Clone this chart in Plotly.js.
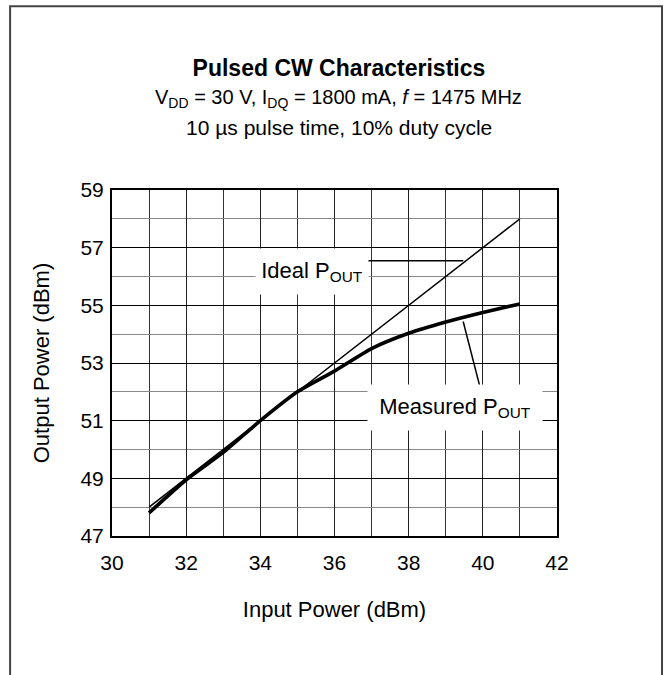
<!DOCTYPE html>
<html>
<head>
<meta charset="utf-8">
<script src="https://cdn.plot.ly/plotly-3.0.1.min.js"></script>
<style>
  html, body { margin: 0; padding: 0; background: #fff; }
  #chart { width: 664px; height: 675px; }
</style>
</head>
<body>
<div id="chart"></div>
<script>
// Data
const inputPower = [31, 32, 33, 34, 35, 36, 37, 38, 39, 40, 41];
const measuredPout = [47.8, 48.95, 49.9, 51.0, 52.0, 52.72, 53.5, 54.03, 54.42, 54.75, 55.05];
const idealInput = [31, 41];
const idealPout = [48, 58];
const xTickVals = [30, 32, 34, 36, 38, 40, 42];
const yTickVals = [47, 49, 51, 53, 55, 57, 59];

const FONT = 'Arial, "Liberation Sans", sans-serif';

const traces = [
  {
    x: idealInput, y: idealPout, type: 'scatter', mode: 'lines',
    name: 'Ideal POUT', line: { color: '#000', width: 1.5 }, showlegend: false
  },
  {
    x: inputPower, y: measuredPout, type: 'scatter', mode: 'lines',
    name: 'Measured POUT', line: { color: '#000', width: 3.6, shape: 'spline', smoothing: 0.6 }, showlegend: false
  }
];

const layout = {
  width: 664, height: 675,
  margin: { l: 112, r: 107, t: 190, b: 139 },
  paper_bgcolor: '#fff', plot_bgcolor: '#fff',
  font: { family: FONT, color: '#000', size: 21 },
  showlegend: false,
  title: {
    text: '<b>Pulsed CW Characteristics</b>',
    font: { family: FONT, size: 23, color: '#000' },
    x: 0.51, xref: 'paper', xanchor: 'center',
    y: 1 - 68 / 675, yref: 'container', yanchor: 'middle'
  },
  xaxis: {
    range: [30, 42], tickvals: xTickVals, ticks: '',
    showgrid: true, gridcolor: '#222', gridwidth: 1,
    minor: { dtick: 1, showgrid: true, gridcolor: '#333', gridwidth: 1 },
    showline: true, linecolor: '#000', linewidth: 2, mirror: true,
    zeroline: false, ticklabelstandoff: 7,
    tickfont: { family: FONT, size: 21 },
    title: { text: 'Input Power (dBm)', font: { family: FONT, size: 22 }, standoff: 28 }
  },
  yaxis: {
    range: [47, 59], tickvals: yTickVals, ticks: '',
    showgrid: true, gridcolor: '#000', gridwidth: 1,
    minor: { dtick: 1, showgrid: true, gridcolor: '#888', gridwidth: 1 },
    showline: true, linecolor: '#000', linewidth: 2, mirror: true,
    zeroline: false, ticklabelstandoff: 2,
    tickfont: { family: FONT, size: 21 },
    title: { text: 'Output Power (dBm)', font: { family: FONT, size: 22 }, standoff: 25 }
  },
  shapes: [
    {
      type: 'path', xref: 'paper', yref: 'paper',
      path: 'M -0.229 -0.5 L -0.229 1.531 L 1.236 1.531 L 1.236 -0.5',
      line: { color: '#444', width: 2 }, layer: 'above'
    },
    {
      type: 'line', xref: 'x', yref: 'y', x0: 36.9, y0: 56.55, x1: 39.47, y1: 56.55,
      line: { color: '#000', width: 1.5 }, layer: 'above'
    },
    {
      type: 'line', xref: 'x', yref: 'y', x0: 39.47, y0: 54.44, x1: 39.92, y1: 52.18,
      line: { color: '#000', width: 1.5 }, layer: 'above'
    }
  ],
  annotations: [
    {
      xref: 'paper', yref: 'paper', x: 0.51, y: (536 - 99) / 345.5,
      xanchor: 'center', yanchor: 'middle', showarrow: false,
      text: 'V<sub>DD</sub> = 30 V, I<sub>DQ</sub> = 1800 mA, <i>f</i> = 1475 MHz',
      font: { family: FONT, size: 20, color: '#000' }
    },
    {
      xref: 'paper', yref: 'paper', x: 0.51, y: (536 - 128) / 345.5,
      xanchor: 'center', yanchor: 'middle', showarrow: false,
      text: '10 µs pulse time, 10% duty cycle',
      font: { family: FONT, size: 21, color: '#000' }
    },
    {
      xref: 'x', yref: 'y', x: 35.4, y: 56.19, xanchor: 'center', yanchor: 'middle',
      showarrow: false, text: 'Ideal P<sub>OUT</sub>', bgcolor: '#fff',
      width: 110, height: 43, font: { family: FONT, size: 22, color: '#000' }
    },
    {
      xref: 'x', yref: 'y', x: 39.26, y: 51.44, xanchor: 'center', yanchor: 'middle',
      showarrow: false, text: 'Measured P<sub>OUT</sub>', bgcolor: '#fff',
      width: 172, height: 43, font: { family: FONT, size: 22, color: '#000' }
    }
  ]
};

Plotly.newPlot('chart', traces, layout, { staticPlot: true, displayModeBar: false });
</script>
</body>
</html>
